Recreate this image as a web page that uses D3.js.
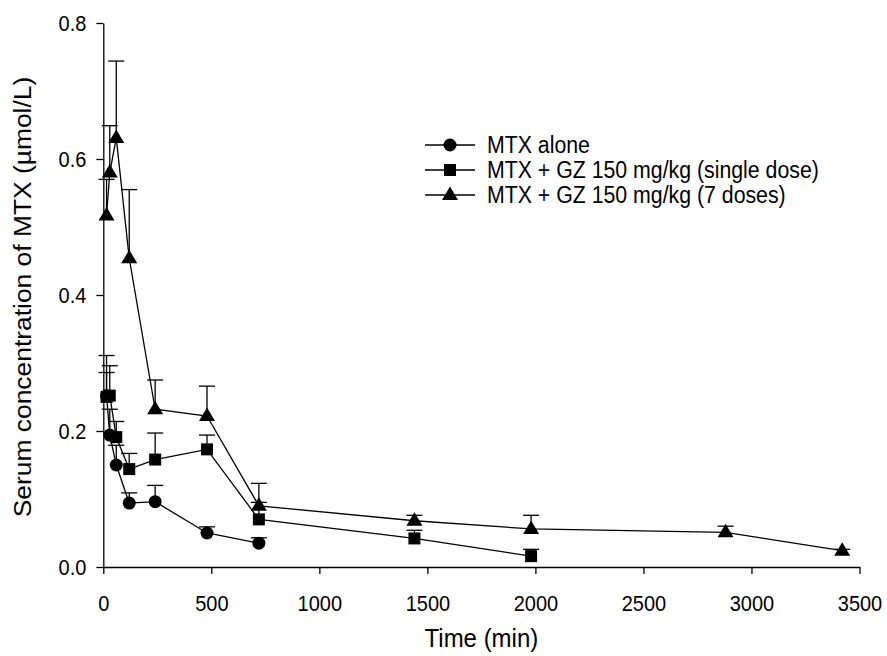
<!DOCTYPE html>
<html>
<head>
<meta charset="utf-8">
<script src="https://cdn.jsdelivr.net/npm/d3@7"></script>
<style>
  body { margin: 0; background: #fff; }
  text { font-family: "Liberation Sans", Arial, sans-serif; fill: #000; }
  .axis path, .axis line { stroke: #000; stroke-width: 1.3; }
  .axis text { font-size: 20px; }
</style>
</head>
<body>
<div id="chart"></div>
<script>
// data (time in min, serum MTX in umol/L, upper error bar end)
const aloneTime = [15, 30, 60, 120, 240, 480, 720];
const aloneMean = [0.252, 0.194, 0.150, 0.094, 0.096, 0.050, 0.035];
const aloneUpper = [0.286, 0.232, 0.179, 0.109, 0.120, 0.059, 0.043];

const singleTime = [15, 30, 60, 120, 240, 480, 720, 1440, 1980];
const singleMean = [0.250, 0.252, 0.191, 0.144, 0.158, 0.173, 0.070, 0.042, 0.016];
const singleUpper = [0.311, 0.296, 0.214, 0.167, 0.197, 0.194, 0.095, 0.054, 0.026];

const sevenTime = [15, 30, 60, 120, 240, 480, 720, 1440, 1980, 2880, 3420];
const sevenMean = [0.517, 0.580, 0.631, 0.454, 0.232, 0.222, 0.090, 0.068, 0.056, 0.051, 0.024];
const sevenUpper = [0.570, 0.649, 0.744, 0.555, 0.275, 0.266, 0.123, 0.076, 0.076, 0.060, 0.026];

const xTicks = [0, 500, 1000, 1500, 2000, 2500, 3000, 3500];
const yTicks = [0.0, 0.2, 0.4, 0.6, 0.8];

const seriesNames = ["MTX alone", "MTX + GZ 150 mg/kg (single dose)", "MTX + GZ 150 mg/kg (7 doses)"];
const seriesShapes = ["circle", "square", "triangle"];

const width = 887, height = 656;
const margin = { top: 23, left: 103.3, right: 27.5, bottom: 89 };
// the original lettering is a bit taller than wide
const stretch = 1.1;

const svg = d3.select("#chart")
    .append("svg")
    .attr("width", width)
    .attr("height", height);

const xScale = d3.scaleLinear()
    .domain([0, 3500])
    .range([margin.left, width - margin.right]);

const yScale = d3.scaleLinear()
    .domain([0, 0.8])
    .range([height - margin.bottom, margin.top]);

// build the three series from the arrays
function makeSeries(time, mean, upper) {
    return time.map((t, i) => ({ t: t, v: mean[i], up: upper[i] }));
}
const series = [
    makeSeries(aloneTime, aloneMean, aloneUpper),
    makeSeries(singleTime, singleMean, singleUpper),
    makeSeries(sevenTime, sevenMean, sevenUpper)
];

// marker drawing
function drawMarker(g, shape, x, y) {
    if (shape === "circle") {
        g.append("circle").attr("cx", x).attr("cy", y).attr("r", 6.5).attr("fill", "#000");
    } else if (shape === "square") {
        g.append("rect").attr("x", x - 6).attr("y", y - 6).attr("width", 12).attr("height", 12).attr("fill", "#000");
    } else {
        g.append("path")
            .attr("d", `M${x},${y - 8.5}L${x + 8},${y + 5}L${x - 8},${y + 5}Z`)
            .attr("fill", "#000");
    }
}

// axes
const xAxis = svg.append("g")
    .attr("class", "axis")
    .attr("transform", `translate(0,${height - margin.bottom})`)
    .call(d3.axisBottom(xScale).tickValues(xTicks).tickSize(7).tickSizeOuter(0).tickPadding(18).tickFormat(d3.format("d")));

const yAxis = svg.append("g")
    .attr("class", "axis")
    .attr("transform", `translate(${margin.left},0)`)
    .call(d3.axisLeft(yScale).tickValues(yTicks).tickSize(7).tickSizeOuter(0).tickPadding(10).tickFormat(d3.format(".1f")));

xAxis.selectAll("text").attr("dy", "0.75em").attr("transform", `scale(1,${stretch})`);
yAxis.selectAll("text").attr("transform", `scale(1,${stretch})`);

svg.append("text")
    .attr("transform", `translate(${(xScale(0) + xScale(3500)) / 2},647) scale(1,${stretch})`)
    .attr("text-anchor", "middle")
    .attr("font-size", 24)
    .text("Time (min)");

svg.append("text")
    .attr("transform", `translate(31,297) rotate(-90) scale(${stretch},1)`)
    .attr("text-anchor", "middle")
    .attr("font-size", 24)
    .text("Serum concentration of MTX (\u00b5mol/L)");

const line = d3.line().x(d => xScale(d.t)).y(d => yScale(d.v));

// lines, then error bars, then markers
series.forEach(s => {
    svg.append("path")
        .datum(s)
        .attr("d", line)
        .attr("fill", "none")
        .attr("stroke", "#000")
        .attr("stroke-width", 1.3);
});

series.forEach(s => {
    const eb = svg.append("g").attr("stroke", "#000").attr("stroke-width", 1.3);
    s.forEach(d => {
        const x = xScale(d.t);
        eb.append("line").attr("x1", x).attr("x2", x).attr("y1", yScale(d.v)).attr("y2", yScale(d.up));
        eb.append("line").attr("x1", x - 8).attr("x2", x + 8).attr("y1", yScale(d.up)).attr("y2", yScale(d.up));
    });
});

series.forEach((s, i) => {
    const g = svg.append("g");
    s.forEach(d => drawMarker(g, seriesShapes[i], xScale(d.t), yScale(d.v)));
});

// legend
const legend = svg.append("g");
seriesNames.forEach((name, i) => {
    const ly = 145 + i * 25;
    legend.append("line")
        .attr("x1", 425).attr("x2", 475).attr("y1", ly).attr("y2", ly)
        .attr("stroke", "#000").attr("stroke-width", 1.3);
    drawMarker(legend, seriesShapes[i], 450, ly);
    legend.append("text")
        .attr("transform", `translate(487,${ly + 8}) scale(1,${stretch})`)
        .attr("font-size", 21.3)
        .text(name);
});
</script>
</body>
</html>
